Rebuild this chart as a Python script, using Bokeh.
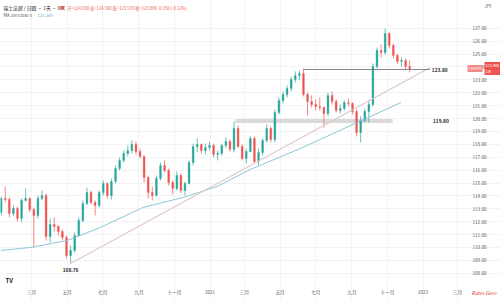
import pandas as pd
from bokeh.plotting import figure
from bokeh.models import Range1d, FixedTicker, Label, NumeralTickFormatter, ColumnDataSource
from bokeh.embed import file_html
from bokeh.resources import INLINE

# ---- weekly candles ----
first_week = "2020-01-09"
opens = [112.72, 113.80, 113.72, 112.64, 113.03, 112.25, 113.65, 113.80, 112.95, 112.48,
         113.80, 114.03, 110.85, 111.78, 111.63, 111.24, 110.78, 109.38, 109.77, 110.93,
         112.10, 113.41, 114.27, 113.49, 113.26, 114.27, 114.96, 114.03, 115.12, 116.13,
         116.75, 117.29, 117.52, 117.99, 117.44, 117.06, 115.43, 114.27, 114.03, 115.35,
         116.36, 115.97, 115.04, 114.58, 115.58, 114.42, 114.96, 116.59, 117.83, 117.99,
         117.52, 117.75, 117.91, 117.21, 117.29, 117.91, 118.22, 117.60, 119.23, 117.83,
         116.90, 117.44, 118.45, 116.67, 117.37, 118.30, 119.23, 118.37, 120.47, 121.40,
         121.86, 122.33, 123.03, 123.34, 123.49, 121.86, 121.32, 121.09, 120.93, 120.85,
         120.39, 121.79, 121.32, 120.62, 120.78, 121.24, 121.17, 120.54, 118.92, 119.85,
         120.54, 121.09, 124.03, 125.27, 125.12, 126.59, 125.66, 124.89, 124.42, 124.50,
         124.03]
highs = [113.96, 114.73, 113.88, 113.26, 113.18, 113.80, 114.58, 113.88, 113.10, 114.03,
         114.42, 114.19, 112.25, 112.33, 111.71, 111.40, 110.93, 110.16, 111.16, 112.33,
         113.65, 114.65, 114.42, 113.65, 114.42, 115.20, 115.04, 115.35, 116.36, 116.98,
         117.52, 117.91, 118.30, 118.22, 117.68, 117.13, 115.58, 114.73, 115.58, 116.59,
         116.75, 116.13, 115.20, 115.89, 115.74, 115.12, 116.75, 118.06, 118.45, 118.06,
         118.06, 118.22, 118.06, 117.52, 118.06, 118.53, 118.37, 119.77, 119.46, 117.99,
         117.68, 118.68, 118.61, 117.68, 118.45, 119.54, 119.38, 120.70, 121.63, 122.10,
         122.56, 123.26, 123.65, 123.72, 123.88, 122.02, 121.79, 121.48, 121.63, 120.93,
         122.02, 122.10, 121.48, 121.09, 121.40, 121.55, 121.24, 120.70, 120.16, 120.78,
         121.40, 124.27, 125.51, 125.74, 126.98, 126.67, 125.82, 125.04, 124.73, 124.65,
         124.50]
lows = [112.48, 113.49, 112.33, 112.41, 112.02, 111.94, 113.57, 112.72, 110.00, 112.25,
        113.65, 110.54, 110.39, 111.24, 110.93, 110.54, 109.15, 108.76, 109.61, 110.85,
        111.94, 113.26, 113.34, 112.48, 113.10, 114.03, 113.80, 113.72, 114.96, 115.97,
        116.59, 117.06, 117.29, 117.21, 116.90, 115.04, 113.80, 113.65, 113.96, 115.20,
        115.82, 114.81, 114.11, 114.42, 114.19, 114.03, 114.89, 116.36, 117.37, 117.29,
        117.21, 117.52, 116.98, 116.75, 117.13, 117.68, 117.44, 117.37, 117.68, 116.75,
        116.51, 117.37, 116.51, 116.36, 117.13, 118.14, 118.14, 118.14, 120.31, 121.17,
        121.63, 122.10, 122.79, 122.95, 121.71, 120.23, 120.85, 120.62, 120.62, 119.30,
        120.16, 121.09, 120.47, 120.39, 120.62, 120.93, 120.31, 118.61, 118.14, 119.69,
        119.69, 120.93, 123.88, 124.73, 124.96, 125.43, 124.65, 124.19, 124.03, 123.80,
        123.57]
closes = [113.80, 113.72, 112.64, 113.03, 112.25, 113.65, 113.80, 112.95, 112.48, 113.80,
          114.03, 110.85, 111.78, 111.63, 111.24, 110.78, 109.38, 109.77, 110.93, 112.10,
          113.41, 114.27, 113.49, 113.26, 114.27, 114.96, 114.03, 115.12, 116.13, 116.75,
          117.29, 117.52, 117.99, 117.44, 117.06, 115.43, 114.27, 114.03, 115.35, 116.36,
          115.97, 115.04, 114.58, 115.58, 114.42, 114.96, 116.59, 117.83, 117.99, 117.52,
          117.75, 117.91, 117.21, 117.29, 117.91, 118.22, 117.60, 119.23, 117.83, 116.90,
          117.44, 118.45, 116.67, 117.37, 118.30, 119.23, 118.37, 120.47, 121.40, 121.86,
          122.33, 123.03, 123.34, 123.49, 121.86, 121.32, 121.09, 120.93, 120.85, 120.39,
          121.79, 121.32, 120.62, 120.78, 121.24, 121.17, 120.54, 118.92, 119.85, 120.54,
          121.09, 124.03, 125.27, 125.12, 126.59, 125.66, 124.89, 124.42, 124.50, 124.03,
          123.88]

# ---- MA 200 ----
ma_dates = ["2020-01-08", "2020-02-28", "2020-05-01", "2020-06-27", "2020-09-08", "2020-11-16",
            "2021-01-13", "2021-03-11", "2021-06-05", "2021-08-30", "2021-11-24"]
ma_values = [109.77, 110.00, 110.54, 111.55, 113.10, 113.88, 114.73, 116.05, 117.68, 119.46, 121.24]

# ---- drawings ----
trend_dates = ["2020-05-07", "2022-01-13"]
trend_values = [108.76, 123.96]
resistance_level = 123.80
resistance_dates = ["2021-06-10", "2022-01-13"]
support_level = 119.80
support_dates = ["2021-02-13", "2021-11-10"]
low_value = 108.76
low_date = "2020-05-07"
last_price = 123.88

month_ticks = ["2020-03-01", "2020-05-01", "2020-07-01", "2020-09-01", "2020-11-01", "2021-01-01",
               "2021-03-01", "2021-05-01", "2021-07-01", "2021-09-01", "2021-11-01", "2022-01-01",
               "2022-03-01"]
month_labels = ["三月", "五月", "七月", "九月", "十一月", "2021", "三月", "五月", "七月", "九月",
                "十一月", "2022", "三月"]
price_ticks = list(range(108, 128))

FONT = "Noto Sans CJK SC"
DAY = 86400000.0
UP = "#26a69a"
DOWN = "#ef5350"


def ms(d):
    return pd.Timestamp(d).value / 1e6


dates = pd.date_range(first_week, periods=len(closes), freq="7D")
df = pd.DataFrame(dict(date=dates, open=opens, high=highs, low=lows, close=closes))
df["top"] = df[["open", "close"]].max(axis=1)
df["bottom"] = df[["open", "close"]].min(axis=1)
up = ColumnDataSource(df[df.close >= df.open])
dn = ColumnDataSource(df[df.close < df.open])

x0 = ms("2020-03-01")
p = figure(width=500, height=300, x_axis_type="datetime", y_axis_location="right",
           x_range=Range1d(x0 - 53.1 * DAY, x0 + 803.6 * DAY),
           y_range=Range1d(105.89, 129.15),
           output_backend="svg", toolbar_location=None,
           min_border_left=0, min_border_top=0, min_border_right=0, min_border_bottom=0)
p.background_fill_color = "white"
p.border_fill_color = "white"
p.outline_line_color = None

# axes (labels pulled in over the pane, like the price / time scales of the original)
p.yaxis.ticker = FixedTicker(ticks=price_ticks)
p.yaxis.formatter = NumeralTickFormatter(format="0.00")
p.yaxis.major_label_text_font_size = "4.6px"
p.yaxis.major_label_text_color = "#555555"
p.yaxis.major_label_text_font = FONT
p.yaxis.major_tick_line_color = None
p.yaxis.minor_tick_line_color = None
p.yaxis.axis_line_color = None
p.yaxis.major_tick_out = 0
p.yaxis.major_label_standoff = -28

tick_ms = [ms(d) for d in month_ticks]
p.xaxis.ticker = FixedTicker(ticks=tick_ms)
p.xaxis.major_label_overrides = {t: lab for t, lab in zip(tick_ms, month_labels)}
p.xaxis.major_label_text_font_size = "4.6px"
p.xaxis.major_label_text_color = "#555555"
p.xaxis.major_label_text_font = FONT
p.xaxis.major_tick_line_color = None
p.xaxis.minor_tick_line_color = None
p.xaxis.axis_line_color = None
p.xaxis.major_tick_out = 0
p.xaxis.major_label_standoff = -12

p.xgrid.ticker = FixedTicker(ticks=tick_ms)
p.xgrid.grid_line_color = "#f3f3f3"
p.ygrid.grid_line_color = "#f3f3f3"

# support band
p.line(x=[ms(d) for d in support_dates], y=[support_level, support_level],
       line_color="#d6d6d6", line_width=4, line_alpha=0.9)

# candles
for src, col in ((up, UP), (dn, DOWN)):
    p.segment(x0="date", y0="low", x1="date", y1="high", source=src, line_color=col, line_width=0.7)
    p.vbar(x="date", width=3.0 * DAY, top="top", bottom="bottom", source=src,
           fill_color=col, line_color=col, line_width=0.4)

# MA 200
p.line(x=[ms(d) for d in ma_dates], y=ma_values, line_color="#8cc6d8", line_width=1)

# trend line
p.line(x=[ms(d) for d in trend_dates], y=trend_values, line_color="#dfc9c9", line_width=1.2)

# resistance
p.line(x=[ms(d) for d in resistance_dates], y=[resistance_level, resistance_level],
       line_color="#6b6b6b", line_width=0.8)

# level labels
for lvl, d in ((resistance_level, "2022-01-16"), (support_level, "2022-01-18")):
    p.add_layout(Label(x=ms(d), y=lvl, text=f"{lvl:.2f}", text_font=FONT, text_font_size="4.8px",
                       text_font_style="bold", text_color="#222222", text_baseline="middle",
                       text_align="left"))
p.add_layout(Label(x=ms(low_date), y=low_value, text=f"{low_value:.2f}", text_font=FONT,
                   text_font_size="4.8px", text_font_style="bold", text_color="#222222",
                   text_baseline="top", text_align="center", y_offset=-5))

# header
last = df.iloc[-1]
chg = last.close - df.iloc[-2].close
p.add_layout(Label(x=3, y=293, x_units="screen", y_units="screen", text="瑞士法郎 / 日圆 · 1天 · IDC",
                   text_font=FONT, text_font_size="4.8px", text_color="#131722", text_baseline="middle"))
p.add_layout(Label(x=60, y=293, x_units="screen", y_units="screen", text="●",
                   text_font=FONT, text_font_size="4px", text_color=DOWN, text_baseline="middle"))
p.add_layout(Label(x=67, y=293, x_units="screen", y_units="screen",
                   text=f"开={last.open:.3f} 高={last.high:.3f} 低={last.low:.3f} 收={last.close:.3f} "
                        f"{chg:+.3f} ({chg / df.iloc[-2].close * 100:+.2f}%)",
                   text_font=FONT, text_font_size="4.2px", text_color=DOWN, text_baseline="middle"))
p.add_layout(Label(x=3, y=286, x_units="screen", y_units="screen", text="MA 200 close 0",
                   text_font=FONT, text_font_size="4.2px", text_color="#555555", text_baseline="middle"))
p.add_layout(Label(x=37, y=286, x_units="screen", y_units="screen", text=f"{ma_values[-1]:.3f}",
                   text_font=FONT, text_font_size="4.2px", text_color="#5aaec8", text_baseline="middle"))
p.add_layout(Label(x=484, y=295, x_units="screen", y_units="screen", text="JPY",
                   text_font=FONT, text_font_size="4.2px", text_color="#555555", text_baseline="middle"))

# TV logo and watermark
p.add_layout(Label(x=5, y=20, x_units="screen", y_units="screen", text="TV",
                   text_font=FONT, text_font_size="6px", text_font_style="bold",
                   text_color="#131722", text_baseline="middle"))
p.add_layout(Label(x=471, y=8, x_units="screen", y_units="screen", text="Rates Gem",
                   text_font=FONT, text_font_size="5px", text_font_style="italic",
                   text_color="#e53935", text_baseline="middle"))

# last price tags
p.add_layout(Label(x=467, y=last_price, x_units="screen", text="CHFJPY",
                   text_font=FONT, text_font_size="3.8px", text_color="white", text_baseline="middle",
                   background_fill_color="#f28b88", border_line_color=None, padding=1))
p.add_layout(Label(x=484, y=last_price, x_units="screen", text=f"{last_price:.3f}\n1天",
                   text_font=FONT, text_font_size="3.8px", text_color="white", text_baseline="middle",
                   background_fill_color=DOWN, border_line_color=None, padding=1))

open("out.html", "w").write(file_html(p, INLINE))
